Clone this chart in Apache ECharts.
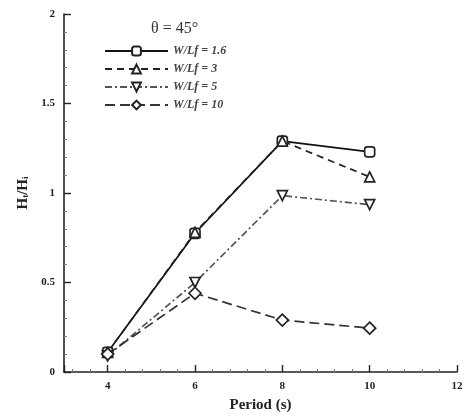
<!DOCTYPE html>
<html>
<head>
<meta charset="utf-8">
<script src="https://cdn.jsdelivr.net/npm/echarts@6/dist/echarts.min.js"></script>
<style>
  html, body { margin: 0; padding: 0; background: #fff; }
  #main { width: 475px; height: 418px; }
</style>
</head>
<body>
<div id="main"></div>
<script>
// periods (s)
var periods = [4, 6, 8, 10]
var names = ['W/Lf = 1.6', 'W/Lf = 3', 'W/Lf = 5', 'W/Lf = 10']
// Ht/Hi
var ratio16 = [0.11, 0.775, 1.29, 1.23]
var ratio3 = [0.11, 0.78, 1.29, 1.09]
var ratio5 = [0.09, 0.50, 0.985, 0.935]
var ratio10 = [0.10, 0.44, 0.29, 0.245]

var serif = 'Liberation Serif'

function pairs(vals) {
  return periods.map(function (p, i) { return [p, vals[i]] })
}

function makeSeries(name, vals, symbol, size, rotate, color, lineType) {
  return {
    name: name,
    type: 'line',
    data: pairs(vals),
    symbol: symbol,
    symbolSize: size,
    symbolRotate: rotate,
    showAllSymbol: true,
    lineStyle: { color: color, width: 1.7, type: lineType },
    itemStyle: { color: '#fff', borderColor: '#222', borderWidth: 1.7 },
    emphasis: { disabled: true }
  }
}

var myChart = echarts.init(document.getElementById('main'))
myChart.setOption({
  animation: false,
  title: {
    text: 'θ = 45°',
    left: 146,
    top: 16,
    textStyle: { fontFamily: serif, fontSize: 16, fontWeight: 'normal', color: '#333' }
  },
  legend: {
    orient: 'vertical',
    left: 99,
    top: 40,
    itemWidth: 63,
    itemHeight: 11,
    itemGap: 6,
    data: names,
    textStyle: { fontFamily: serif, fontSize: 12, fontStyle: 'italic', fontWeight: 'bold', color: '#444' }
  },
  grid: { left: 64, right: 18, top: 14, bottom: 46 },
  xAxis: {
    type: 'value',
    min: 3,
    max: 12,
    splitNumber: 5,
    name: 'Period (s)',
    nameLocation: 'middle',
    nameGap: 26,
    nameTextStyle: { fontFamily: serif, fontSize: 15, fontWeight: 'bold', color: '#222' },
    axisLine: { lineStyle: { color: '#222', width: 1.6 } },
    axisTick: { inside: true, length: 7, lineStyle: { color: '#222', width: 1.4 } },
    minorTick: { show: true, splitNumber: 5, length: 3, lineStyle: { color: '#777' } },
    axisLabel: { showMinLabel: false, margin: 9, fontFamily: serif, fontSize: 11, fontWeight: 'bold', color: '#222' },
    splitLine: { show: false }
  },
  yAxis: {
    type: 'value',
    min: 0,
    max: 2,
    interval: 0.5,
    name: '{h|H}{s|t}{h|/H}{s|i}',
    nameLocation: 'middle',
    nameRotate: 90,
    nameGap: 25,
    nameTextStyle: {
      rich: {
        h: { fontFamily: serif, fontSize: 15, fontWeight: 'bold', color: '#222' },
        s: { fontFamily: serif, fontSize: 9, fontWeight: 'bold', color: '#222', verticalAlign: 'bottom', padding: [6, 0, 0, 0] }
      }
    },
    axisLine: { lineStyle: { color: '#222', width: 1.6 } },
    axisTick: { inside: true, length: 7, lineStyle: { color: '#222', width: 1.4 } },
    minorTick: { show: true, splitNumber: 5, length: 3, lineStyle: { color: '#777' } },
    axisLabel: {
      margin: 9,
      fontFamily: serif, fontSize: 11, fontWeight: 'bold', color: '#222'
    },
    splitLine: { show: false }
  },
  series: [
    makeSeries(names[0], ratio16, 'roundRect', 10, 0, '#111', 'solid'),
    makeSeries(names[1], ratio3, 'triangle', 10, 0, '#222', [7, 5]),
    makeSeries(names[2], ratio5, 'triangle', 10, 180, '#555', [7, 3, 2, 3]),
    makeSeries(names[3], ratio10, 'diamond', 12, 0, '#333', [10, 5])
  ]
})
</script>
</body>
</html>
